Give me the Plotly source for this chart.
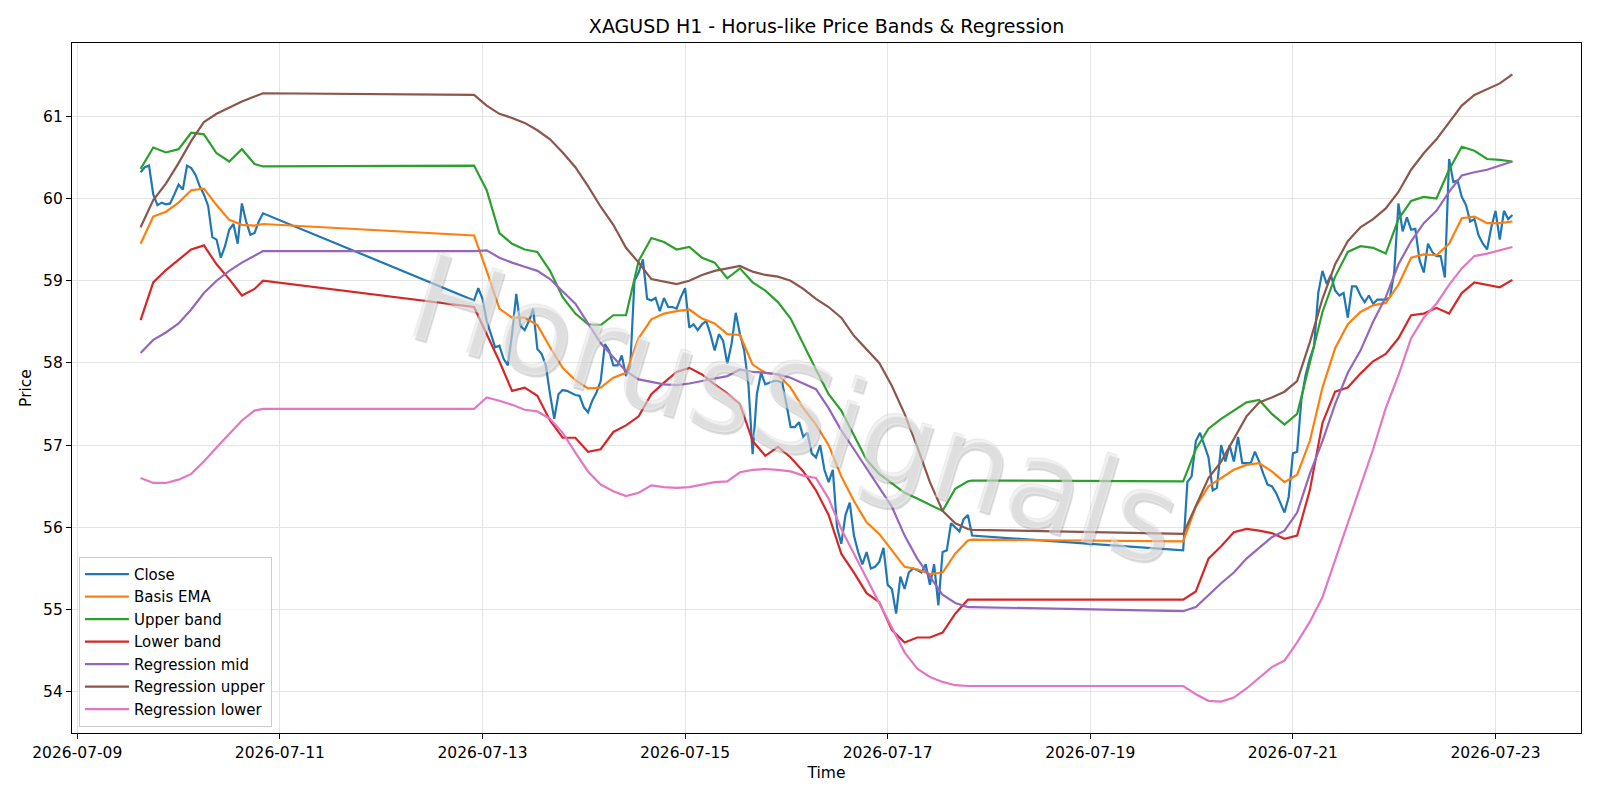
import pandas as pd
import plotly.graph_objects as go

# ---------------- data ----------------
# trading sessions (hourly bars); weekend gaps are bridged by straight lines
SEGMENT_STARTS = ["2026-07-09 15:00", "2026-07-12 22:00", "2026-07-19 22:00"]

close_seg1 = [60.32, 60.38, 60.40, 60.05, 59.92, 59.95, 59.93, 59.94, 60.05, 60.17,
              60.11, 60.40, 60.37, 60.29, 60.15, 60.05, 59.91, 59.53, 59.50, 59.28,
              59.42, 59.62, 59.69, 59.45, 59.94, 59.72, 59.56, 59.58, 59.72, 59.82]

close_seg2 = [58.76, 58.91, 58.78, 58.51, 58.35, 58.19, 58.21, 58.05, 57.97, 58.35,
              58.84, 58.45, 58.40, 58.51, 58.66, 58.17, 58.11, 57.97, 57.62, 57.32,
              57.62, 57.67, 57.66, 57.63, 57.61, 57.60, 57.46, 57.40, 57.54, 57.64,
              57.78, 58.23, 58.15, 57.97, 57.97, 58.09, 57.84, 57.95, 59.00, 59.10,
              59.26, 58.78, 58.76, 58.79, 58.63, 58.79, 58.68, 58.68, 58.66, 58.80,
              58.91, 58.43, 58.47, 58.40, 58.47, 58.51, 58.35, 58.15, 58.35, 58.27,
              57.99, 58.23, 58.61, 58.35, 58.15, 57.74, 56.89, 57.62, 57.88, 57.74,
              57.76, 57.78, 57.78, 57.76, 57.50, 57.22, 57.22, 57.28, 57.10, 57.15,
              56.90, 56.85, 57.00, 56.70, 56.55, 56.70, 56.00, 55.80, 56.15, 56.30,
              55.90, 55.70, 55.55, 55.70, 55.50, 55.52, 55.58, 55.75, 55.30, 55.25,
              54.95, 55.40, 55.25, 55.45, 55.50, 55.48, 55.45, 55.55, 55.30, 55.55,
              55.05, 55.70, 55.72, 56.05, 56.00, 55.95, 56.10, 56.15, 55.90]

close_seg3 = [55.72, 56.55, 56.62, 57.05, 57.15, 57.00, 56.85, 56.45, 56.48, 57.00,
              56.80, 57.00, 56.80, 57.10, 56.78, 56.78, 56.78, 56.92, 56.80, 56.65,
              56.52, 56.50, 56.42, 56.30, 56.18, 56.37, 56.90, 56.92, 57.55, 57.85,
              58.05, 58.20, 58.85, 59.12, 58.96, 59.07, 58.88, 58.82, 58.85, 58.55,
              58.93, 58.93, 58.82, 58.74, 58.82, 58.72, 58.77, 58.77, 58.77, 58.80,
              59.10, 59.94, 59.60, 59.77, 59.62, 59.63, 59.25, 59.10, 59.45, 59.35,
              59.30, 59.30, 59.04, 60.48, 60.20, 60.22, 60.02, 59.92, 59.72, 59.75,
              59.55, 59.45, 59.38, 59.65, 59.85, 59.50, 59.85, 59.75, 59.80]

# hour offsets (from each session start) at which the smooth band curves were read
band_hours_seg1 = [0, 3, 6, 9, 12, 15, 18, 21, 24, 27, 29]
band_hours_seg2 = [0, 3, 6, 9, 12, 15, 18, 21, 24, 27, 30, 33, 36, 39, 42, 45, 48, 51, 54, 57,
                   60, 63, 66, 69, 72, 75, 78, 81, 84, 87, 90, 93, 96, 99, 102, 105, 108, 111,
                   114, 117, 118]
band_hours_seg3 = [0, 3, 6, 9, 12, 15, 18, 21, 24, 27, 30, 33, 36, 39, 42, 45, 48, 51, 54, 57,
                   60, 63, 66, 69, 72, 75, 78]

basis_ema = [59.45, 59.78, 59.84, 59.95, 60.10, 60.12, 59.92, 59.74, 59.68, 59.67, 59.69,
             59.55, 59.12, 58.66, 58.55, 58.55, 58.46, 58.19, 57.94, 57.79, 57.69,
             57.70, 57.82, 57.88, 58.30, 58.53, 58.60, 58.63, 58.65, 58.54, 58.48,
             58.35, 58.34, 57.98, 57.88, 57.86, 57.70, 57.45, 57.25, 57.00, 56.62,
             56.32, 56.06, 55.92, 55.72, 55.52, 55.49, 55.43, 55.45, 55.68, 55.84, 55.85,
             55.83, 56.25, 56.50, 56.60, 56.70, 56.76, 56.78, 56.68, 56.55, 56.64,
             57.05, 57.70, 58.18, 58.47, 58.62, 58.70, 58.73, 58.95, 59.28, 59.32,
             59.31, 59.45, 59.76, 59.78, 59.70, 59.70, 59.72]

upper_band = [60.36, 60.62, 60.56, 60.60, 60.80, 60.78, 60.55, 60.45, 60.60, 60.42, 60.39,
              60.40, 60.10, 59.58, 59.45, 59.38, 59.35, 59.12, 58.80, 58.60, 58.47,
              58.46, 58.58, 58.58, 59.24, 59.52, 59.47, 59.38, 59.41, 59.28, 59.22,
              59.03, 59.15, 58.98, 58.88, 58.74, 58.54, 58.22, 57.92, 57.62, 57.42,
              57.12, 56.82, 56.65, 56.53, 56.42, 56.35, 56.28, 56.20, 56.47, 56.56, 56.57,
              56.56, 56.95, 57.20, 57.32, 57.42, 57.52, 57.55, 57.38, 57.25, 57.38,
              58.00, 58.62, 59.05, 59.35, 59.42, 59.40, 59.33, 59.75, 59.97, 60.02,
              60.00, 60.35, 60.63, 60.58, 60.48, 60.47, 60.45]

lower_band = [58.52, 58.98, 59.13, 59.25, 59.38, 59.43, 59.20, 59.02, 58.82, 58.90, 59.00,
              58.68, 58.35, 58.02, 57.66, 57.70, 57.60, 57.30, 57.09, 57.09, 56.92,
              56.95, 57.16, 57.24, 57.35, 57.62, 57.76, 57.89, 57.94, 57.86, 57.74,
              57.63, 57.50, 57.05, 56.87, 56.98, 56.85, 56.68, 56.45, 56.15, 55.68,
              55.45, 55.20, 55.09, 54.75, 54.60, 54.66, 54.66, 54.72, 54.95, 55.12, 55.12,
              55.12, 55.22, 55.62, 55.77, 55.94, 55.98, 55.96, 55.93, 55.86, 55.90,
              56.45, 57.27, 57.65, 57.70, 57.87, 58.02, 58.11, 58.30, 58.58, 58.60,
              58.67, 58.60, 58.85, 58.98, 58.95, 58.92, 59.01]

regression_mid = [58.12, 58.28, 58.37, 58.48, 58.65, 58.85, 59.00, 59.12, 59.22, 59.30, 59.36,
                  59.36, 59.37, 59.28, 59.22, 59.17, 59.12, 59.02, 58.87, 58.72, 58.48,
                  58.24, 58.07, 57.90, 57.80, 57.77, 57.74, 57.73, 57.75, 57.78, 57.81,
                  57.84, 57.92, 57.89, 57.88, 57.86, 57.82, 57.75, 57.68, 57.45, 57.18,
                  56.95, 56.72, 56.48, 56.25, 55.90, 55.62, 55.40, 55.18, 55.08, 55.03, 55.03,
                  54.98, 55.03, 55.18, 55.32, 55.45, 55.62, 55.75, 55.88, 55.96, 56.18,
                  56.65, 57.05, 57.50, 57.88, 58.15, 58.50, 58.80, 59.20, 59.48, 59.70,
                  59.85, 60.08, 60.28, 60.32, 60.35, 60.40, 60.45]

regression_upper = [59.65, 59.98, 60.18, 60.43, 60.70, 60.93, 61.03, 61.10, 61.18, 61.24, 61.28,
                    61.26, 61.13, 61.03, 60.98, 60.92, 60.83, 60.72, 60.56, 60.38, 60.15,
                    59.90, 59.68, 59.40, 59.22, 59.02, 58.99, 58.96, 59.00, 59.07, 59.12,
                    59.15, 59.18, 59.11, 59.07, 59.05, 59.00, 58.90, 58.78, 58.68, 58.55,
                    58.33, 58.16, 58.00, 57.72, 57.38, 56.98, 56.55, 56.20, 56.05, 55.98, 55.97,
                    55.92, 56.25, 56.60, 56.80, 57.08, 57.35, 57.52, 57.58, 57.65, 57.78,
                    58.25, 58.78, 59.20, 59.48, 59.65, 59.75, 59.88, 60.08, 60.35, 60.55,
                    60.72, 60.92, 61.13, 61.26, 61.33, 61.40, 61.51]

regression_lower = [56.60, 56.54, 56.54, 56.58, 56.65, 56.80, 56.97, 57.13, 57.30, 57.42, 57.44,
                    57.44, 57.58, 57.54, 57.49, 57.43, 57.41, 57.32, 57.15, 56.91, 56.68,
                    56.52, 56.44, 56.38, 56.42, 56.51, 56.49, 56.48, 56.49, 56.52, 56.55,
                    56.56, 56.67, 56.70, 56.71, 56.70, 56.68, 56.63, 56.60, 56.35, 55.98,
                    55.68, 55.38, 55.10, 54.78, 54.48, 54.28, 54.18, 54.12, 54.08, 54.07, 54.07,
                    54.07, 53.97, 53.89, 53.88, 53.93, 54.04, 54.17, 54.30, 54.38, 54.60,
                    54.85, 55.15, 55.60, 56.05, 56.50, 56.95, 57.45, 57.85, 58.30, 58.55,
                    58.72, 58.95, 59.15, 59.30, 59.33, 59.37, 59.41]

TICK_DATES = ["2026-07-09", "2026-07-11", "2026-07-13", "2026-07-15",
              "2026-07-17", "2026-07-19", "2026-07-21", "2026-07-23"]
Y_TICKS = [54, 55, 56, 57, 58, 59, 60, 61]

# ---------------- build time axes ----------------
starts = [pd.Timestamp(s) for s in SEGMENT_STARTS]
close_values = close_seg1 + close_seg2 + close_seg3
close_times = []
for st, seg in zip(starts, [close_seg1, close_seg2, close_seg3]):
    close_times += list(pd.date_range(st, periods=len(seg), freq="h"))

band_times = []
for st, hrs in zip(starts, [band_hours_seg1, band_hours_seg2, band_hours_seg3]):
    band_times += [st + pd.Timedelta(hours=h) for h in hrs]

# matplotlib-like 5% margins
t0, t1 = close_times[0], close_times[-1]
pad = (t1 - t0) * 0.05
all_vals = close_values + basis_ema + upper_band + lower_band + regression_mid + regression_upper + regression_lower
vmin, vmax = min(all_vals), max(all_vals)
vpad = (vmax - vmin) * 0.05

series = [
    ("Close", close_times, close_values, "#1f77b4"),
    ("Basis EMA", band_times, basis_ema, "#ff7f0e"),
    ("Upper band", band_times, upper_band, "#2ca02c"),
    ("Lower band", band_times, lower_band, "#d62728"),
    ("Regression mid", band_times, regression_mid, "#9467bd"),
    ("Regression upper", band_times, regression_upper, "#8c564b"),
    ("Regression lower", band_times, regression_lower, "#e377c2"),
]

fig = go.Figure()
for name, xs, ys, col in series:
    fig.add_trace(go.Scatter(x=xs, y=ys, mode="lines", name=name,
                             line=dict(color=col, width=2.2)))

FONT = "DejaVu Sans"
axis_common = dict(showline=True, linecolor="black", linewidth=1.1, mirror=True,
                   ticks="outside", ticklen=5, tickcolor="black", tickwidth=1.1,
                   showgrid=True, gridcolor="#e4e4e4", gridwidth=1, zeroline=False,
                   tickfont=dict(family=FONT, size=15.5, color="black"))

fig.update_layout(
    width=1600, height=800,
    margin=dict(l=72, r=19, t=43, b=67),
    paper_bgcolor="white", plot_bgcolor="white",
    title=dict(text="XAGUSD H1 - Horus-like Price Bands & Regression",
               x=0.5166, xanchor="center", xref="container",
               y=1 - 26.5 / 800, yanchor="middle", yref="container",
               font=dict(family=FONT, size=19, color="black")),
    xaxis=dict(type="date", range=[t0 - pad, t1 + pad],
               tickvals=[pd.Timestamp(d) for d in TICK_DATES], ticktext=TICK_DATES,
               title=dict(text="Time", font=dict(family=FONT, size=15.5, color="black"), standoff=6),
               **axis_common),
    yaxis=dict(range=[vmin - vpad, vmax + vpad], tickvals=Y_TICKS,
               ticktext=[str(v) for v in Y_TICKS],
               title=dict(text="Price", font=dict(family=FONT, size=15.5, color="black"), standoff=7),
               **axis_common),
    legend=dict(x=0.0046, y=0.009, xanchor="left", yanchor="bottom",
                bgcolor="rgba(255,255,255,0.8)", bordercolor="#cccccc", borderwidth=1,
                itemwidth=44,
                font=dict(family=FONT, size=15, color="black")),
    showlegend=True,
    annotations=[dict(text="HorusSignals", xref="paper", yref="paper", x=0.479, y=0.468,
                      xanchor="center", yanchor="middle", showarrow=False, textangle=17,
                      font=dict(family=FONT, size=122, color="rgba(255,255,255,0.45)",
                                shadow="2px 2px 1px rgba(100,100,100,0.6), -1px -1px 1px rgba(140,140,140,0.45)"))],
)

fig.write_html("out.html")
